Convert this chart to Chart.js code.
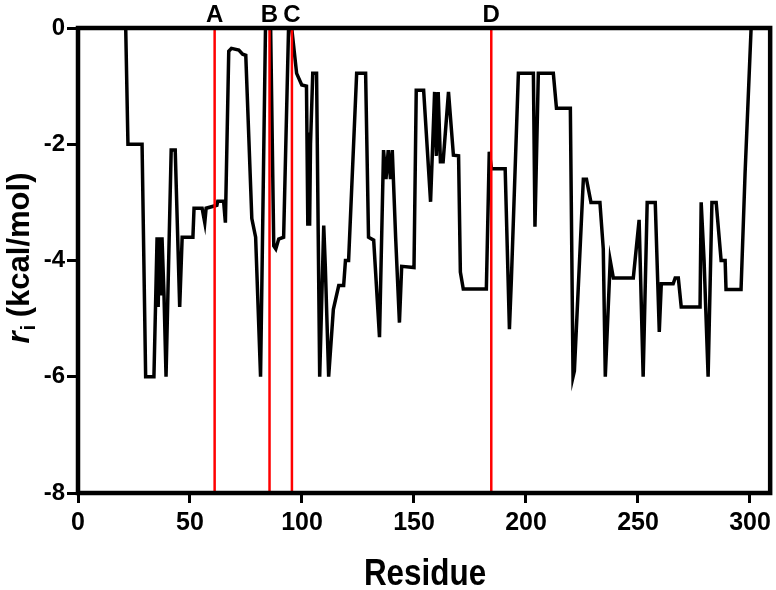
<!DOCTYPE html>
<html>
<head>
<meta charset="utf-8">
<script src="https://cdn.jsdelivr.net/npm/chart.js@4.4.0/dist/chart.umd.min.js"></script>
<style>
  body { margin: 0; background: #fff; }
</style>
</head>
<body>
<canvas id="myChart" width="776" height="590"></canvas>
<script>
// residue index and interaction energy r_i (kcal/mol)
var residues = [21.3, 22.3, 28.6, 30.2, 33.9, 35.3, 35.8, 36.3, 37.0, 37.5, 38.4, 39.3, 41.6, 43.4, 45.4, 46.5,
  51.3, 51.8, 55.4, 56.6, 57.2, 62.0, 62.4, 65.0, 65.8, 67.3, 68.5, 71.8, 73.5, 74.9, 77.6, 79.3,
  81.5, 83.7, 86.0, 87.4, 88.3, 89.6, 91.8, 94.0, 95.4, 97.6, 99.9, 102.0, 102.6, 103.0, 103.4, 103.8,
  104.8, 106.5, 107.9, 109.7, 110.4, 111.9, 114.0, 116.4, 118.6, 119.4, 120.8, 124.4, 128.4, 129.7,
  132.0, 134.6, 136.4, 137.5, 138.5, 139.5, 140.3, 141.8, 143.5, 144.5, 150.0, 151.0, 154.3, 157.4,
  159.2, 160.0, 160.8, 161.8, 163.0, 165.4, 167.6, 169.9, 170.7, 172.0, 182.3, 183.6, 184.6, 190.7,
  192.6, 193.5, 196.6, 203.3, 204.0, 205.5, 212.2, 213.6, 219.8, 221.0, 221.6, 225.6, 227.0, 229.0,
  233.0, 234.5, 235.4, 237.6, 239.0, 247.9, 250.5, 252.3, 254.1, 257.7, 259.5, 260.4, 265.7, 266.6,
  268.0, 269.3, 277.7, 278.2, 279.5, 281.3, 283.0, 284.9, 287.1, 288.9, 289.3, 296.0, 297.8, 300.5];
var energies = [0, -2.0, -2.0, -6.0, -6.0, -3.6, -4.8, -3.6, -4.6, -3.6, -4.6, -6.0, -2.1, -2.1, -4.8, -3.6,
  -3.6, -3.1, -3.1, -3.35, -3.1, -3.05, -2.98, -2.98, -3.35, -0.4, -0.35, -0.38, -0.45, -0.47, -3.28, -3.6,
  -6.0, 0, 0, -3.75, -3.8, -3.63, -3.6, 0, 0, -0.78, -0.98, -1.0, -3.4, -1.8, -3.4, -2.0,
  -0.78, -0.78, -6.0, -3.4, -4.09, -6.0, -4.84, -4.43, -4.43, -4.0, -4.0, -0.78, -0.78, -3.6,
  -3.65, -5.32, -2.1, -2.6, -2.1, -2.6, -2.1, -3.6, -5.07, -4.1, -4.12, -1.07, -1.07, -2.99,
  -1.1, -2.2, -1.1, -2.3, -2.3, -1.1, -2.19, -2.2, -4.2, -4.49, -4.49, -2.13, -2.42, -2.42,
  -5.18, -4.3, -0.78, -0.78, -3.42, -0.78, -0.78, -1.38, -1.38, -6.0, -5.9, -2.6, -2.6, -3.0,
  -3.0, -3.8, -6.0, -4.0, -4.3, -4.3, -3.3, -6.0, -3.0, -3.0, -5.23, -4.4, -4.4, -4.3,
  -4.3, -4.8, -4.8, -3.0, -4.0, -6.0, -3.0, -3.0, -4.0, -4.0, -4.5, -4.5, -2.5, 0];

var markerResidues = [61, 85.5, 95.5, 184.5];
var markerLabels = ['A', 'B', 'C', 'D'];

var xTicks = [0, 50, 100, 150, 200, 250, 300];
var yTicks = [-8, -6, -4, -2, 0];

var myChart;

function buildDatasets() {
    var points = residues.map(function (r, i) { return { x: r, y: energies[i] }; });
    var sets = [{
        data: points,
        borderColor: '#000',
        borderWidth: 3.5,
        pointRadius: 0,
        tension: 0,
        order: 1
    }];
    markerResidues.forEach(function (m) {
        sets.push({
            data: [{ x: m, y: -8 }, { x: m, y: 0 }],
            borderColor: '#ff0000',
            borderWidth: 2.5,
            pointRadius: 0,
            order: 0
        });
    });
    return sets;
}

// frame, marker letters and axis titles
var decorations = {
    id: 'decorations',
    afterDraw: function (chart) {
        var ctx = chart.ctx;
        var a = chart.chartArea;
        var xs = chart.scales.x;
        ctx.save();
        ctx.strokeStyle = '#000';
        ctx.lineWidth = 4.5;
        ctx.strokeRect(a.left, a.top, a.right - a.left, a.bottom - a.top);

        ctx.fillStyle = '#000';
        ctx.font = 'bold 24px "Liberation Sans", Arial, sans-serif';
        ctx.textAlign = 'center';
        ctx.textBaseline = 'alphabetic';
        markerLabels.forEach(function (lab, i) {
            ctx.fillText(lab, xs.getPixelForValue(markerResidues[i]), 22);
        });

        // x title
        ctx.save();
        ctx.translate((a.left + a.right) / 2 + 1, 585);
        ctx.scale(0.85, 1);
        ctx.font = 'bold 37px "Liberation Sans", Arial, sans-serif';
        ctx.fillText('Residue', 0, 0);
        ctx.restore();

        // y title: italic r, subscript i, rest bold
        ctx.save();
        ctx.translate(29, 258);
        ctx.rotate(-Math.PI / 2);
        ctx.textAlign = 'left';
        var f1 = 'italic bold 31px "Liberation Sans", Arial, sans-serif';
        var f2 = 'bold 20px "Liberation Sans", Arial, sans-serif';
        var f3 = 'bold 31px "Liberation Sans", Arial, sans-serif';
        var rest = ' (kcal/mol)';
        ctx.font = f1; var w1 = ctx.measureText('r').width;
        ctx.font = f2; var w2 = ctx.measureText('i').width;
        ctx.font = f3; var w3 = ctx.measureText(rest).width;
        var x0 = -(w1 + w2 + w3) / 2;
        ctx.font = f1; ctx.fillText('r', x0, 0);
        ctx.font = f2; ctx.fillText('i', x0 + w1 + 1, 6);
        ctx.font = f3; ctx.fillText(rest, x0 + w1 + w2, 0);
        ctx.restore();

        ctx.restore();
    }
};

function createChart() {
    var ctx = document.getElementById('myChart').getContext('2d');
    myChart = new Chart(ctx, {
        type: 'line',
        data: { datasets: buildDatasets() },
        options: {
            responsive: false,
            animation: false,
            events: [],
            layout: { padding: { top: 28, right: 5, left: 0, bottom: 0 } },
            plugins: { legend: { display: false }, tooltip: { enabled: false } },
            scales: {
                x: {
                    type: 'linear',
                    min: 0,
                    max: 309,
                    afterBuildTicks: function (s) { s.ticks = xTicks.map(function (v) { return { value: v }; }); },
                    afterFit: function (s) { s.height = 97; },
                    grid: { drawOnChartArea: false, drawTicks: true, tickLength: 10, tickWidth: 3, color: '#000' },
                    border: { display: false },
                    ticks: {
                        color: '#000',
                        font: { family: '"Liberation Sans", Arial, sans-serif', size: 25, weight: 'bold' },
                        padding: 5,
                        maxRotation: 0,
                        autoSkip: false
                    }
                },
                y: {
                    min: -8,
                    max: 0,
                    afterBuildTicks: function (s) { s.ticks = yTicks.map(function (v) { return { value: v }; }); },
                    afterFit: function (s) { s.width = 78; },
                    grid: { drawOnChartArea: false, drawTicks: true, tickLength: 11, tickWidth: 3, color: '#000' },
                    border: { display: false },
                    ticks: {
                        color: '#000',
                        font: { family: '"Liberation Sans", Arial, sans-serif', size: 24, weight: 'bold' },
                        padding: 2
                    }
                }
            }
        },
        plugins: [decorations]
    });
}

document.addEventListener("DOMContentLoaded", function () {
    createChart();
});
</script>
</body>
</html>
